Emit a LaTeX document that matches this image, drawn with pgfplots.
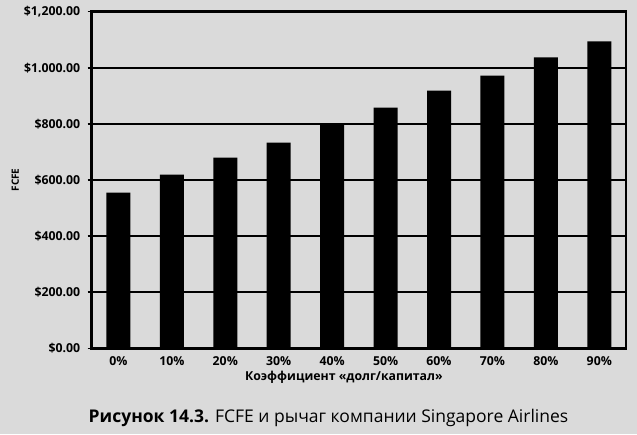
\documentclass[border=0pt]{standalone}
\usepackage{pgfplots}
\pgfplotsset{compat=1.18}
\usepackage{fontspec}
\setmainfont{Open Sans}
\definecolor{bg}{RGB}{218,218,218}
\begin{document}
\begin{tikzpicture}
\path[use as bounding box, fill=bg] (0pt,0pt) rectangle (637pt,434pt);
\begin{axis}[
  at={(91.7pt,85.7pt)}, anchor=south west,
  scale only axis, width=534.3pt, height=336.6pt,
  xmin=-0.5, xmax=9.5, ymin=0, ymax=1200,
  axis background/.style={fill=bg},
  xtick={0,...,9},
  xticklabels={0\%,10\%,20\%,30\%,40\%,50\%,60\%,70\%,80\%,90\%},
  minor xtick={-0.5,0.5,...,9.5},
  ytick={0,200,...,1200},
  yticklabels={{\$0.00},{\$200.00},{\$400.00},{\$600.00},{\$800.00},{\$1.000.00},{\$1,200.00}},
  tick pos=left, tick align=outside,
  major tick length=4pt, minor tick length=4pt,
  xtick style={draw=none},
  minor x tick style={black, line width=1.6pt},
  ytick style={black, line width=1.6pt},
  ymajorgrids, grid style={black, line width=2.4pt},
  axis line style={black, line width=2.6pt},
  ticklabel style={font=\bfseries\fontsize{12.3}{14}\selectfont},
  yticklabel style={xshift=-4pt},
  xticklabel style={yshift=-3pt, inner sep=1pt, text height=9pt, text depth=0pt},
  xlabel={Коэффициент «долг/капитал»},
  xlabel style={font=\bfseries\fontsize{12.3}{14}\selectfont, xshift=-15pt, inner sep=0pt, text height=9pt, text depth=2.5pt, yshift=-5pt},
  ylabel={FCFE},
  ylabel style={font=\bfseries\fontsize{10}{11}\selectfont, yshift=-2pt},
  ybar, bar width=24pt,
]
\addplot[fill=black, draw=none] coordinates {
 (0,555) (1,619) (2,680) (3,733) (4,802) (5,858) (6,919) (7,972) (8,1037) (9,1094)
};
\end{axis}
\node[anchor=base, font=\fontsize{17.5}{20}\selectfont] at (328.5pt,11.3pt)
  {\textbf{Рисунок 14.3.} FCFE и рычаг компании Singapore Airlines};
\end{tikzpicture}
\end{document}
